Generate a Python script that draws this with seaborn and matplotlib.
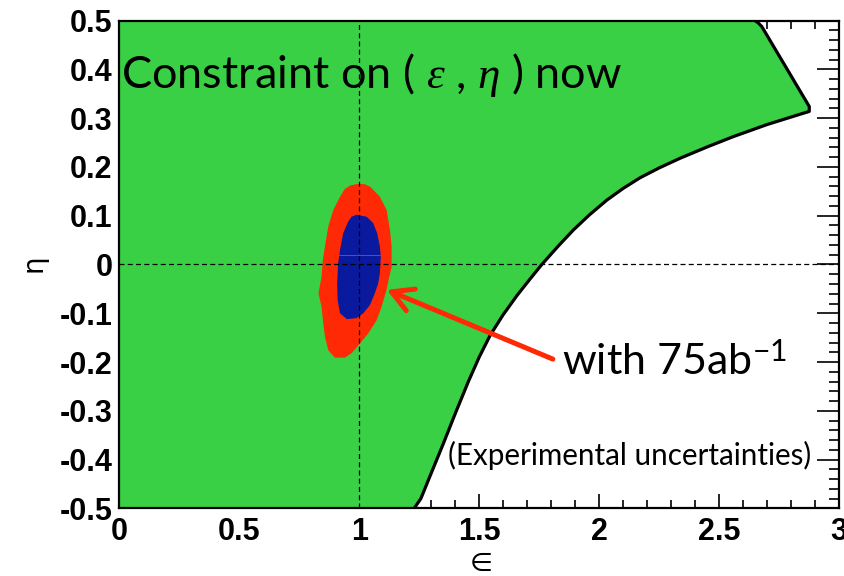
import matplotlib
matplotlib.use("Agg")
import matplotlib.pyplot as plt
import pandas as pd
import seaborn as sns
from matplotlib.patches import FancyArrowPatch
from matplotlib.ticker import FixedLocator, FixedFormatter, MultipleLocator

# Allowed-region boundary in the (epsilon, eta) plane
boundary_eps = [1.229, 1.257, 1.300, 1.350, 1.400, 1.455, 1.500, 1.546, 1.600, 1.657,
                1.710, 1.761, 1.830, 1.893, 1.960, 2.032, 2.100, 2.171, 2.250, 2.338,
                2.450, 2.558, 2.700, 2.876, 2.876, 2.678, 2.662, 2.650]
boundary_eta = [-0.500, -0.480, -0.428, -0.368, -0.306, -0.240, -0.190, -0.145, -0.103, -0.064,
                -0.031, 0.000, 0.038, 0.071, 0.102, 0.132, 0.156, 0.178, 0.198, 0.218,
                0.241, 0.262, 0.287, 0.314, 0.324, 0.488, 0.496, 0.500]

# Outer (red) expected contour with 75 ab^-1
outer_eps = [0.962, 0.990, 1.020, 1.045, 1.086, 1.114, 1.128, 1.135, 1.135, 1.125, 1.114,
             1.093, 1.073, 1.038, 1.003, 0.968, 0.940, 0.899, 0.871, 0.857, 0.850, 0.843,
             0.830, 0.843, 0.848, 0.857, 0.871, 0.892, 0.920, 0.940]
outer_eta = [0.162, 0.165, 0.165, 0.160, 0.139, 0.112, 0.071, 0.037, -0.005, -0.025, -0.052,
             -0.087, -0.114, -0.141, -0.162, -0.182, -0.191, -0.191, -0.176, -0.148, -0.121, -0.087,
             -0.059, -0.025, 0.009, 0.037, 0.078, 0.112, 0.139, 0.155]

# Inner (blue) expected contour
inner_eps = [0.989, 1.031, 1.058, 1.075, 1.086, 1.090, 1.086, 1.079, 1.065, 1.045,
             1.017, 0.989, 0.948, 0.920, 0.910, 0.908, 0.912, 0.920, 0.933, 0.954, 0.968]
inner_eta = [0.102, 0.098, 0.085, 0.064, 0.037, 0.016, -0.018, -0.039, -0.059, -0.083,
             -0.100, -0.110, -0.112, -0.100, -0.073, -0.039, 0.002, 0.030, 0.064, 0.088, 0.098]

# Standard-model point
sm_eps = 1.0
sm_eta = 0.0

# Arrow from the luminosity label to the contours
arrow_from = (1.807, -0.194)
arrow_to = (1.115, -0.052)

xtick_values = [0, 0.5, 1, 1.5, 2, 2.5, 3]
xtick_labels = ["0", "0.5", "1", "1.5", "2", "2.5", "3"]
ytick_values = [-0.5, -0.4, -0.3, -0.2, -0.1, 0, 0.1, 0.2, 0.3, 0.4, 0.5]
ytick_labels = ["-0.5", "-0.4", "-0.3", "-0.2", "-0.1", "0", "0.1", "0.2", "0.3", "0.4", "0.5"]

GREEN = "#39D045"
RED = "#FF2A05"
BLUE = "#0A1A9E"

sns.set_theme(style="ticks")
plt.rcParams["font.family"] = ["Liberation Sans", "DejaVu Sans"]
plt.rcParams["text.color"] = "black"
plt.rcParams["axes.unicode_minus"] = False
plt.rcParams["mathtext.fontset"] = "custom"
plt.rcParams["mathtext.rm"] = "Lato"
plt.rcParams["mathtext.it"] = "Liberation Serif:italic"

fig = plt.figure(figsize=(8.44, 5.76), dpi=100)
ax = fig.add_axes([0.1414, 0.1175, 0.8527, 0.8466])
ax.set_facecolor("white")

# Allowed region (green) bounded by the axes frame and the boundary curve
fill_eps = [0.0] + boundary_eps + [0.0]
fill_eta = [-0.5] + boundary_eta + [0.5]
ax.fill(fill_eps, fill_eta, color=GREEN, lw=0, zorder=1)

bdf = pd.DataFrame({"eps": boundary_eps, "eta": boundary_eta})
sns.lineplot(data=bdf, x="eps", y="eta", sort=False, estimator=None,
             color="black", lw=2.3, ax=ax, zorder=3)

# Expected contours
ax.fill(outer_eps, outer_eta, color=RED, lw=0, zorder=2)
ax.fill(inner_eps, inner_eta, color=BLUE, lw=0, zorder=2.1)
ax.plot([0.908, 1.090], [0.0195, 0.0195], color=RED, lw=0.6, zorder=2.2)

# Reference lines through the SM point
ax.axvline(sm_eps, color="black", lw=0.9, dashes=(4, 2.6), zorder=4)
ax.axhline(sm_eta, color="black", lw=0.9, dashes=(4, 2.6), zorder=4)

arrow = FancyArrowPatch(posA=arrow_from, posB=arrow_to,
                        arrowstyle="->,head_length=15,head_width=8.4",
                        mutation_scale=1, lw=3.6, color=RED,
                        shrinkA=0, shrinkB=0, zorder=5)
ax.add_patch(arrow)

ax.text(0.008, 0.362, r"Constraint on ( $\varepsilon$ , $\eta$ ) now",
        fontsize=32.5, family="Lato", color="black", va="baseline", ha="left", zorder=6)
ax.text(1.845, -0.227, r"with 75ab$^{-1}$", fontsize=31, family="Lato", color="black",
        va="baseline", ha="left", zorder=6)
ax.text(1.372, -0.412, "(Experimental uncertainties)", fontsize=21.3, family="Lato",
        color="black", va="baseline", ha="left", zorder=6)

ax.set_xlim(0, 3)
ax.set_ylim(-0.5, 0.5)
ax.xaxis.set_major_locator(FixedLocator(xtick_values))
ax.xaxis.set_major_formatter(FixedFormatter(xtick_labels))
ax.xaxis.set_minor_locator(MultipleLocator(0.1))
ax.yaxis.set_major_locator(FixedLocator(ytick_values))
ax.yaxis.set_major_formatter(FixedFormatter(ytick_labels))
ax.yaxis.set_minor_locator(MultipleLocator(0.02))

ax.tick_params(which="both", direction="in", top=True, right=True,
               color="black", width=1.2)
ax.tick_params(axis="x", which="major", length=10, pad=6)
ax.tick_params(axis="x", which="minor", length=5.5)
ax.tick_params(axis="y", which="major", length=16, pad=5)
ax.tick_params(axis="y", which="minor", length=7)
for lab in ax.get_xticklabels() + ax.get_yticklabels():
    lab.set_fontsize(22)
    lab.set_fontweight("bold")
    lab.set_color("black")

for sp in ax.spines.values():
    sp.set_linewidth(1.6)
    sp.set_color("black")
    sp.set_zorder(7)

ax.set_xlabel("")
ax.set_ylabel("")
fig.text(481 / 844, 1 - 564 / 576, "\u2208", fontsize=19, family="DejaVu Sans",
         color="black", ha="center", va="center")
fig.text(33 / 844, 1 - 263 / 576, "\u03b7", fontsize=20, family="DejaVu Sans",
         color="black", ha="center", va="center", rotation=90)

fig.savefig("out.png", dpi=100, facecolor="white")
